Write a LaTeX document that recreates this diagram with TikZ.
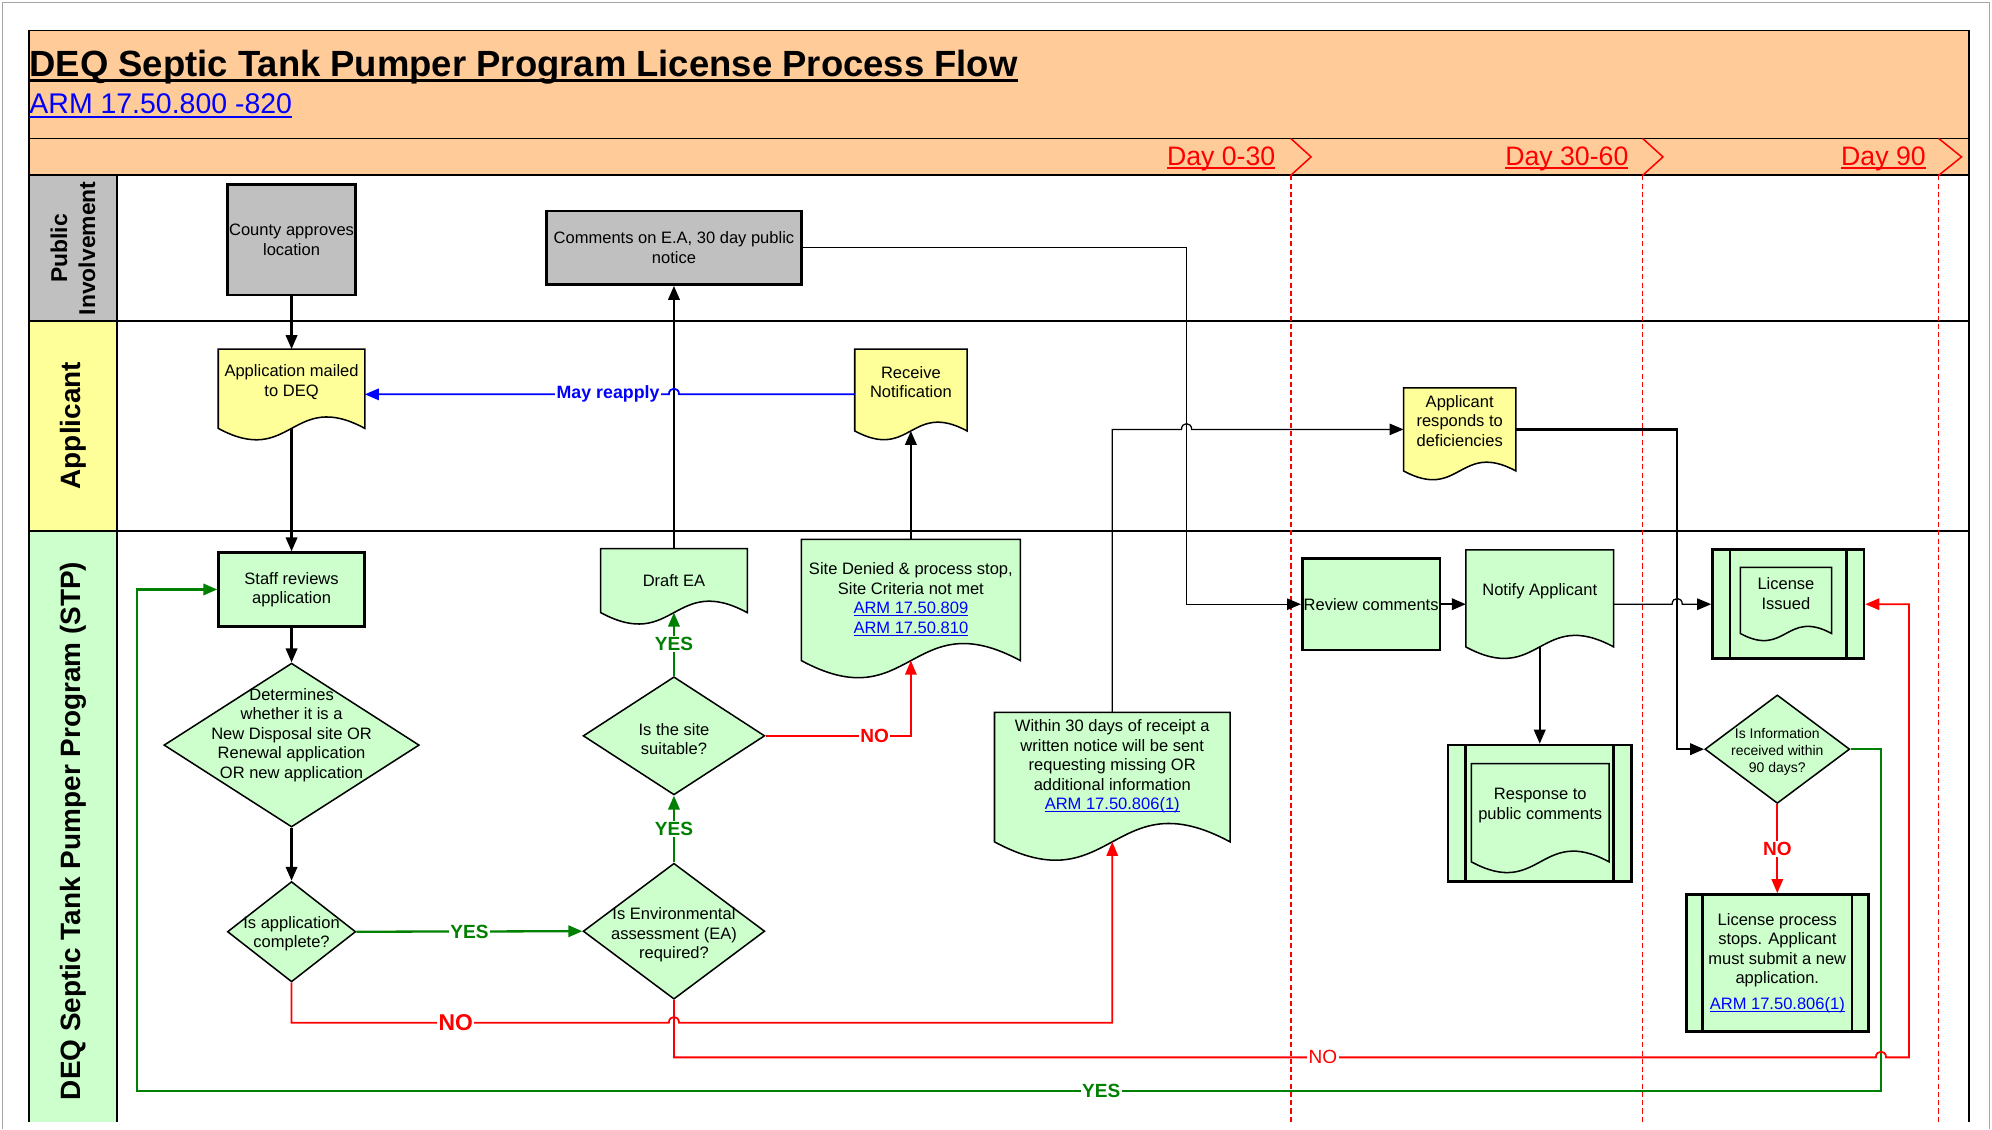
\documentclass[tikz,border=0pt]{standalone}
\usepackage{fontspec}
\setmainfont{Liberation Sans}
\usepackage{xcolor}
\usetikzlibrary{shapes.geometric, arrows.meta, calc}

\definecolor{hdrorange}{HTML}{FFCC99}
\definecolor{pubgray}{HTML}{C0C0C0}
\definecolor{appyellow}{HTML}{FFFF99}
\definecolor{stpgreen}{HTML}{CCFFCC}
\definecolor{yesgreen}{HTML}{008000}
\definecolor{linkblue}{HTML}{0000FF}

\pgfdeclarelayer{bg}
\pgfdeclarelayer{fg}
\pgfsetlayers{bg,main,fg}

\newcommand{\boxfont}{\fontsize{13}{15.3}\selectfont}
% underlined text: thickness, drop below baseline, text
\newcommand{\ulmark}[3]{\setbox0=\hbox{#3}\rlap{\rule[-#2]{\wd0}{#1}}\box0}
\newcommand{\armlink}[1]{{\color{linkblue}\ulmark{0.7pt}{2pt}{#1}}}
% text block raised inside a document shape
\newcommand{\lift}[2]{\raisebox{#1}[\height][\depth]{\begin{tabular}{@{}c@{}}#2\end{tabular}}}
% document outline (wavy bottom) round a node: node, fill, layer
\newcommand{\docline}[3]{%
  \begin{pgfonlayer}{#3}
  \path[draw=black, fill=#2, line width=1.2pt] let \p1=(#1.south west), \p2=(#1.south east), \n1={\x2-\x1} in
    (#1.north west) -- (#1.north east) -- (\p2)
    .. controls (\x2-0.5*\n1, \y2+0.27*\n1) and (\x1+0.5*\n1, \y1-0.27*\n1) .. (\p1) -- cycle;
  \end{pgfonlayer}}
% inner bars of a predefined process box: node, offset
\newcommand{\predef}[2]{%
  \draw[line width=2pt] ([xshift=#2]#1.north west) -- ([xshift=#2]#1.south west)
    ([xshift=-#2]#1.north east) -- ([xshift=-#2]#1.south east);}

\begin{document}
\begin{tikzpicture}[x=1pt, y=1pt,
    greybox/.style={draw, line width=2pt, fill=pubgray, inner sep=0pt, align=center, font=\boxfont},
    greenbox/.style={draw, line width=2pt, fill=stpgreen, inner sep=0pt, align=center, font=\boxfont},
    doc/.style={inner sep=0pt, align=center, font=\boxfont},
    decide/.style={diamond, draw, line width=1.2pt, fill=stpgreen, inner sep=0pt},
    dtext/.style={align=center, font=\boxfont},
    lanelbl/.style={rotate=90, align=center},
    flow/.style={-{Triangle[length=11pt,width=9pt]}, line width=1.8pt},
    thinflow/.style={-{Triangle[length=11pt,width=9pt]}, line width=1pt},
    yesln/.style={flow, draw=yesgreen},
    noln/.style={-{Triangle[length=11pt,width=9pt]}, line width=1.4pt, draw=red},
    blueln/.style={-{Triangle[length=11pt,width=9pt]}, line width=1.4pt, draw=linkblue},
    yeslbl/.style={fill=white, inner sep=1pt, text=yesgreen, font=\bfseries\fontsize{15}{15}\selectfont},
    nolbl/.style={fill=white, inner sep=1pt, text=red, font=\bfseries\fontsize{15}{15}\selectfont},
    daylbl/.style={anchor=base east, inner sep=0pt, font=\fontsize{21}{23}\selectfont},
    daymark/.style={red, line width=1.2pt},
    dayline/.style={red, line width=1.2pt, dash pattern=on 4pt off 2.5pt}]
    \useasboundingbox (0,0) rectangle (1568,-889);

    % Outer frame
    \draw[gray!70, line width=1.5pt] (2,-889) -- (2,-2) -- (1566,-2) -- (1566,-889);

    % Title band and day band
    \fill[hdrorange] (23,-24) rectangle (1550,-138);
    \draw[line width=1.5pt] (23,-24) rectangle (1550,-138);
    \draw[line width=1.5pt] (23,-109) -- (1550,-109);
    \node[anchor=base west, inner sep=0pt, font=\bfseries\fontsize{28.7}{30}\selectfont] (title) at (23,-60)
        {\ulmark{2.4pt}{4.5pt}{DEQ Septic Tank Pumper Program License Process Flow}};
    \node[anchor=base west, inner sep=0pt, font=\fontsize{22.4}{24}\selectfont] (armhdr) at (23,-89)
        {{\color{linkblue}\ulmark{1.2pt}{3.5pt}{ARM 17.50.800 -820}}};

    % Swim lanes
    \fill[pubgray] (23,-138) rectangle (92,-253);
    \fill[appyellow] (23,-253) rectangle (92,-418);
    \fill[stpgreen] (23,-418) rectangle (92,-883);
    \draw[line width=1.5pt] (23,-883) -- (23,-138) -- (1550,-138) -- (1550,-883);
    \draw[line width=1.5pt] (92,-138) -- (92,-883);
    \draw[line width=1.5pt] (23,-253) -- (1550,-253);
    \draw[line width=1.5pt] (23,-418) -- (1550,-418);
    \node[lanelbl, font=\bfseries\fontsize{18}{22}\selectfont] (lpub) at (57.5,-195.5) {Public\\Involvement};
    \node[lanelbl, font=\bfseries\fontsize{22}{24}\selectfont] (lapp) at (57.5,-335) {Applicant};
    \node[lanelbl, font=\bfseries\fontsize{22}{24}\selectfont] (lstp) at (57.5,-654) {DEQ Septic Tank Pumper Program (STP)};

    % Day markers
    \node[daylbl] (day1) at (1004,-130) {{\color{red}\ulmark{1.4pt}{3pt}{Day 0-30}}};
    \node[daylbl] (day2) at (1282,-130) {{\color{red}\ulmark{1.4pt}{3pt}{Day 30-60}}};
    \node[daylbl] (day3) at (1516,-130) {{\color{red}\ulmark{1.4pt}{3pt}{Day 90}}};
    \draw[daymark] (1016,-109) -- (1032,-123.5) -- (1016,-138);
    \draw[daymark] (1293,-109) -- (1309,-123.5) -- (1293,-138);
    \draw[daymark] (1526,-109) -- (1544,-123.5) -- (1526,-138);
    \draw[dayline] (1016,-138) -- (1016,-883);
    \draw[dayline] (1293,-138) -- (1293,-883);
    \draw[dayline] (1526,-138) -- (1526,-883);

    % Public involvement lane
    \node[greybox, minimum width=101pt, minimum height=87pt] (county) at (229.5,-188.6) {County approves\\location};
    \node[greybox, minimum width=201pt, minimum height=58pt] (comments) at (530.5,-195) {Comments on E.A, 30 day public\\notice};

    % Applicant lane
    \node[doc, minimum width=115pt, minimum height=62pt] (appmail) at (229.5,-306) {\lift{5pt}{Application mailed\\to DEQ}};
    \docline{appmail}{appyellow}{bg}
    \node[doc, minimum width=88pt, minimum height=64pt] (recv) at (717,-307) {\lift{4.5pt}{Receive\\Notification}};
    \docline{recv}{appyellow}{bg}
    \node[doc, minimum width=88pt, minimum height=65pt] (resp) at (1149,-338) {\lift{5pt}{Applicant\\responds to\\deficiencies}};
    \docline{resp}{appyellow}{bg}

    % STP lane
    \node[greenbox, minimum width=115pt, minimum height=58pt] (staff) at (229.5,-464) {Staff reviews\\application};
    \node[decide, minimum width=201pt, minimum height=129pt,
        label={[dtext, yshift=8pt]center:{Determines\\whether it is a\\New Disposal site OR\\Renewal application\\OR new application}}] (determ) at (229.5,-586.5) {};
    \node[decide, minimum width=101pt, minimum height=79pt,
        label={[dtext, yshift=-1.5pt]center:{Is application\\complete?}}] (complete) at (229.5,-733.4) {};
    \node[decide, minimum width=143pt, minimum height=107pt,
        label={[dtext, yshift=-3pt]center:{Is Environmental\\assessment (EA)\\required?}}] (eareq) at (530.5,-733) {};
    \node[decide, minimum width=143pt, minimum height=93pt,
        label={[dtext, yshift=-2.4pt]center:{Is the site\\suitable?}}] (suitable) at (530.5,-579.2) {};
    \node[doc, minimum width=115pt, minimum height=50pt] (draft) at (530.5,-457) {\lift{-1.5pt}{Draft EA}};
    \docline{draft}{stpgreen}{bg}
    \node[doc, minimum width=172pt, minimum height=95pt] (denied) at (717,-472.3)
        {\lift{0pt}{Site Denied \& process stop,\\Site Criteria not met\\\armlink{ARM 17.50.809}\\\armlink{ARM 17.50.810}}};
    \docline{denied}{stpgreen}{bg}
    \node[doc, minimum width=185pt, minimum height=101.5pt] (within) at (875.5,-611.7)
        {\lift{8pt}{Within 30 days of receipt a\\written notice will be sent\\requesting missing OR\\additional information\\\armlink{ARM 17.50.806(1)}}};
    \docline{within}{stpgreen}{bg}
    \node[greenbox, minimum width=108.5pt, minimum height=72pt] (review) at (1079.3,-475.6) {Review comments};
    \node[doc, minimum width=116pt, minimum height=76pt] (notify) at (1212,-471) {\lift{5.3pt}{Notify Applicant}};
    \docline{notify}{stpgreen}{bg}
    \node[greenbox, minimum width=144.5pt, minimum height=107.6pt] (respcom) at (1212,-640.2) {};
    \predef{respcom}{15pt}
    \node[doc, minimum width=108pt, minimum height=77pt] (respdoc) at (1212.4,-639.7) {\lift{5.7pt}{Response to\\public comments}};
    \docline{respdoc}{none}{fg}
    \node[greenbox, minimum width=119.3pt, minimum height=85.8pt] (license) at (1407.6,-475.6) {};
    \predef{license}{14.7pt}
    \node[doc, minimum width=71.5pt, minimum height=51.7pt] (licdoc) at (1405.8,-472.6) {\lift{3.6pt}{License\\Issued}};
    \docline{licdoc}{none}{fg}
    \node[decide, minimum width=114pt, minimum height=85.4pt,
        label={[align=center, yshift=-2pt, font=\fontsize{11}{13.3}\selectfont]center:{Is Information\\received within\\90 days?}}] (info) at (1399,-589.7) {};
    \node[greenbox, minimum width=143.4pt, minimum height=108pt] (stops) at (1399,-758)
        {License process\\stops. Applicant\\must submit a new\\application.\\[5pt]\armlink{ARM 17.50.806(1)}};
    \predef{stops}{14pt}

    % Connectors
    \draw[flow] (county.south) -- (appmail.north);
    \draw[flow] (appmail.south) -- (staff.north);
    \draw[flow] (staff.south) -- (determ.north);
    \draw[flow] (determ.south) -- (complete.north);
    \draw[yesln] (complete.east) -- node[yeslbl] {YES} (eareq.west);
    \draw[yesln] (eareq.north) -- node[yeslbl] {YES} (suitable.south);
    \draw[yesln] (suitable.north) -- node[yeslbl] {YES} (draft.south);
    \draw[flow] (draft.north) -- (comments.south);
    \draw[noln] (suitable.east) -| node[nolbl, pos=0.375] {NO} (denied.south);
    \draw[flow] (denied.north) -- (recv.south);
    \draw[blueln] ([yshift=-4.4pt]appmail.east -| recv.west) -- ($([yshift=-4.4pt]appmail.east -| draft.north)+(4,0)$)
        .. controls +(0,6) and +(0,6) .. ($([yshift=-4.4pt]appmail.east -| draft.north)+(-4,0)$)
        -- node[pos=0.2, fill=white, inner sep=1pt, text=linkblue, font=\bfseries\fontsize{14}{14}\selectfont] {May reapply}
        ([yshift=-4.4pt]appmail.east);
    \draw[thinflow] (comments.east) -- ++(302,0) coordinate (cbend) |- (review.west);
    \draw[thinflow] (within.north) -- (within.north |- resp.west) -- ($(cbend |- resp.west)+(-4,0)$)
        .. controls +(0,6) and +(0,6) .. ($(cbend |- resp.west)+(4,0)$) -- (resp.west);
    \draw[flow] (resp.east) -- ++(127,0) coordinate (rbend) |- (info.west);
    \draw[flow] (review.east) -- (review.east -| notify.west);
    \draw[thinflow] (review.east -| notify.east) -- ($(review.east -| rbend)+(-4,0)$)
        .. controls +(0,6) and +(0,6) .. ($(review.east -| rbend)+(4,0)$) -- (license.west);
    \draw[flow] (notify.south) -- (respcom.north);
    \draw[noln] (info.south) -- node[nolbl] {NO} (stops.north);
    \draw[yesln] (info.east) -- ++(24,0) coordinate (gbend) -- ++(0,-268.8)
        -- node[yeslbl, pos=0.447] {YES} ++(-1373,0) |- (staff.west);
    \draw[noln] (eareq.south) -- ++(0,-45.2) coordinate (r1)
        -- node[nolbl, pos=0.54, font=\fontsize{15}{15}\selectfont] {NO} ($(r1 -| gbend)+(-4,0)$)
        .. controls +(0,6) and +(0,6) .. ($(r1 -| gbend)+(4,0)$) -- ++(18,0) |- (license.east);
    \draw[noln] (complete.south) -- ++(0,-31.5) coordinate (n1)
        -- node[nolbl, pos=0.435, font=\bfseries\fontsize{18}{18}\selectfont] {NO} ($(n1 -| eareq.south)+(-4,0)$)
        .. controls +(0,6) and +(0,6) .. ($(n1 -| eareq.south)+(4,0)$) -| (within.south);
\end{tikzpicture}
\end{document}
